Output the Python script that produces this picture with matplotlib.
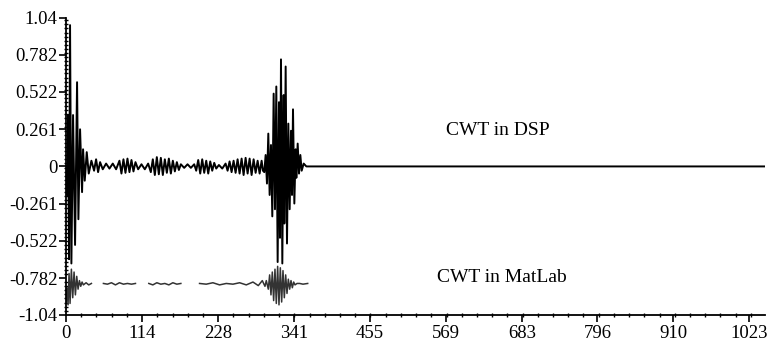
import numpy as np
import matplotlib
matplotlib.use("Agg")
import matplotlib.pyplot as plt
from matplotlib.ticker import AutoMinorLocator

plt.rcParams['font.family'] = ['Liberation Serif', 'DejaVu Serif']

# CWT computed on the DSP (sample index, value)
dsp_x = [0, 1.5, 3, 4.5, 6, 8, 10.5, 13.5, 16.5, 18.5, 21, 24, 25.5, 28, 31,
         34, 38, 42, 45, 48, 51, 55, 60, 65, 70, 75, 80, 83, 86, 89, 92, 95,
         98, 101, 104, 108, 113, 118, 123, 127, 130, 133, 136, 139, 142, 145,
         148, 151, 154, 157, 160, 163, 166, 169, 172, 177, 182, 187, 192, 195,
         198, 201, 204, 207, 210, 213, 216, 219, 222, 225, 229, 234, 239, 242,
         245, 248, 251, 254, 257, 260, 263, 266, 269, 272, 275, 278, 281, 284,
         287, 290, 293, 295,
         297, 299, 301, 303, 305, 307, 309, 311, 313, 315, 317, 319, 320.5, 322,
         324, 326, 327, 329, 331, 333, 335, 337, 338.5, 340, 342, 344, 345, 347,
         349, 351, 353, 356, 360, 1047]
dsp_y = [0.0, -0.2, 0.36, -0.65, 0.99, -0.68, 0.36, -0.55, 0.59, -0.37, 0.26,
         -0.18, 0.12, -0.1, 0.1,
         -0.05, 0.04, -0.03, 0.05, -0.04, 0.03, -0.02, 0.02, -0.015, 0.02,
         -0.02, 0.04, -0.05, 0.05, -0.045, 0.055, -0.04, 0.045, -0.035, 0.03,
         -0.02, 0.015, -0.02, 0.02, -0.04, 0.05, -0.06, 0.065, -0.055, 0.06,
         -0.06, 0.05, -0.045, 0.055, -0.05, 0.04, -0.035, 0.03, -0.025, 0.015,
         -0.01, 0.015, -0.01, 0.015, -0.03, 0.045, -0.05, 0.05, -0.045, 0.04,
         -0.05, 0.035, -0.03, 0.025, -0.015, 0.01, -0.015, 0.02, -0.03, 0.035,
         -0.04, 0.04, -0.045, 0.05, -0.05, 0.055, -0.06, 0.06, -0.05, 0.055,
         -0.06, 0.05, -0.045, 0.04, -0.05, 0.04, -0.03,
         -0.04, 0.08, -0.12, 0.23, -0.2, 0.15, -0.35, 0.51, -0.3, 0.56, -0.67,
         0.45, -0.5, 0.75, -0.68, 0.5, -0.4, 0.7, -0.54, 0.3, -0.3, 0.25, -0.2,
         0.4, -0.26, 0.12, -0.08, 0.16, -0.05, 0.08, -0.03, 0.02, 0.0, 0.0]

# CWT computed in MatLab (offset trace, gaps where the print faded)
mat_x = [0, 1.5, 3, 4.5, 6, 8, 10, 12, 14, 16, 18, 20, 22, 24, 26, 30, 34, 38,
         42, 52, 56, 62, 68, 74, 80, 86, 92, 98, 104, 110, 118, 124, 130, 136,
         142, 148, 154, 160, 166, 172, 178, 194, 200, 210, 220, 230, 240, 250,
         260, 270, 280, 288, 294, 298,
         300, 303, 305, 307, 309, 311, 313, 315, 317, 319, 321, 323, 325, 327,
         329, 331, 333, 335, 337, 339, 341, 343, 346, 350, 355, 362]
mat_y = [-0.95, -0.85, -0.97, -0.75, -0.96, -0.72, -0.92, -0.74, -0.9, -0.77,
         -0.86, -0.8, -0.84, -0.81, -0.83, -0.815, -0.83, -0.82,
         np.nan, np.nan, -0.82, -0.825, -0.815, -0.83, -0.815, -0.825, -0.82,
         -0.825, -0.82, np.nan, np.nan, -0.82, -0.83, -0.815, -0.825, -0.82,
         -0.83, -0.815, -0.825, -0.82, np.nan, np.nan, -0.82, -0.825, -0.815,
         -0.83, -0.82, -0.825, -0.815, -0.83, -0.81, -0.835, -0.8, -0.84,
         -0.8, -0.86, -0.76, -0.9, -0.74, -0.94, -0.72, -0.96, -0.7, -0.97,
         -0.71, -0.95, -0.73, -0.92, -0.76, -0.89, -0.79, -0.86, -0.8, -0.85,
         -0.81, -0.83, -0.82, -0.82, -0.825, -0.82]

x_ticks = [0, 114, 228, 341, 455, 569, 683, 796, 910, 1023]
y_ticks = [-1.04, -0.782, -0.522, -0.261, 0, 0.261, 0.522, 0.782, 1.04]
y_labels = ['-1.04', '-0.782', '-0.522', '-0.261', '0', '0.261', '0.522', '0.782', '1.04']

fig = plt.figure(figsize=(7.68, 3.46), dpi=100)
ax = fig.add_axes([0.086, 0.09, 0.91, 0.858])

ax.plot(dsp_x, dsp_y, color='black', lw=1.4)
ax.plot(mat_x, mat_y, color='#333333', lw=1.1)

ax.text(647, 0.255, 'CWT in DSP', fontsize=14, ha='center', va='center')
ax.text(653, -0.775, 'CWT in MatLab', fontsize=14, ha='center', va='center')

ax.set_xlim(0, 1047)
ax.set_ylim(-1.04, 1.04)
ax.set_xticks(x_ticks)
ax.set_yticks(y_ticks)
ax.set_yticklabels(y_labels)
ax.xaxis.set_minor_locator(AutoMinorLocator(5))
ax.yaxis.set_minor_locator(AutoMinorLocator(9))
ax.tick_params(which='major', direction='out', length=5, width=1.2, labelsize=13.5, pad=1)
ax.tick_params(which='minor', direction='inout', length=3, width=1)
ax.tick_params(axis='x', pad=2)

for s in ['top', 'right']:
    ax.spines[s].set_visible(False)
ax.spines['left'].set_linewidth(1.3)
ax.spines['bottom'].set_linewidth(1.3)

fig.savefig('out.png', dpi=100)
